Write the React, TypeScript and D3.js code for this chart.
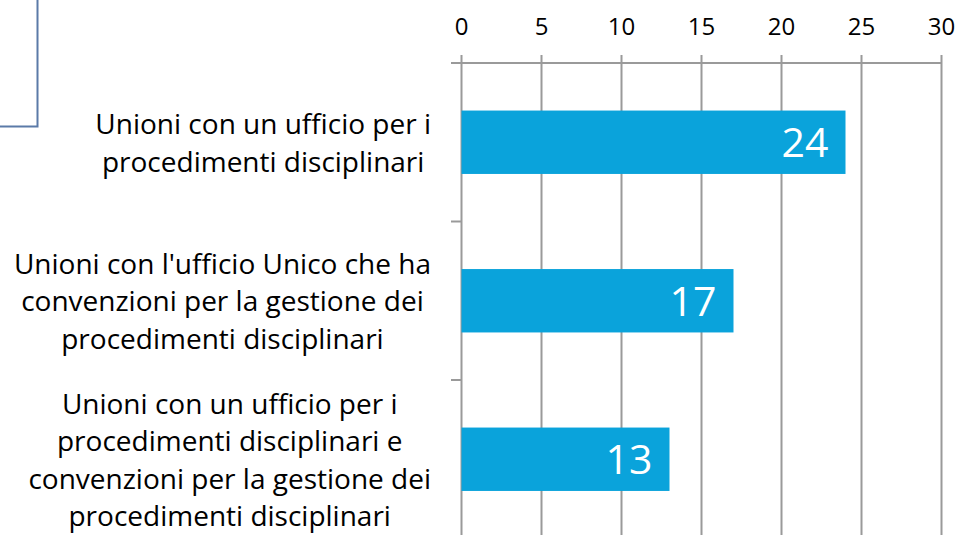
import React, { useEffect, useRef } from 'react';
import * as d3 from 'd3';

// Chart data
const categories = [
  ['Unioni con un ufficio per i', 'procedimenti disciplinari'],
  ["Unioni con l'ufficio Unico che ha", 'convenzioni per la gestione dei', 'procedimenti disciplinari'],
  ['Unioni con un ufficio per i', 'procedimenti disciplinari e', 'convenzioni per la gestione dei', 'procedimenti disciplinari'],
];
const values = [24, 17, 13];
const xTicks = [0, 5, 10, 15, 20, 25, 30];

const App = () => {
  const ref = useRef<SVGSVGElement>(null);
  const width = 959;
  const height = 535;

  useEffect(() => {
    document.body.style.margin = '0';
    const svg = d3.select(ref.current);
    svg.selectAll('*').remove();

    const x = d3.scaleLinear().domain([0, 30]).range([461.5, 941.5]);
    const y = d3.scaleBand<number>()
      .domain(d3.range(categories.length))
      .range([63, 538.5])
      .padding(0);

    const gridColor = '#9a9a9a';

    // Border remnant top-left
    svg.append('path')
      .attr('d', 'M37.5,0 V126.5 H0')
      .attr('fill', 'none')
      .attr('stroke', '#5b7aa8')
      .attr('stroke-width', 2);

    // Vertical gridlines + tick marks
    svg.append('g')
      .selectAll('line')
      .data(xTicks)
      .join('line')
      .attr('x1', d => x(d))
      .attr('x2', d => x(d))
      .attr('y1', 55)
      .attr('y2', height)
      .attr('stroke', gridColor)
      .attr('stroke-width', 2);

    // Top axis line
    svg.append('line')
      .attr('x1', 451).attr('x2', x(30))
      .attr('y1', 63).attr('y2', 63)
      .attr('stroke', gridColor)
      .attr('stroke-width', 2);

    // Category ticks
    svg.append('g')
      .selectAll('line')
      .data(d3.range(1, categories.length))
      .join('line')
      .attr('x1', 451)
      .attr('x2', x(0))
      .attr('y1', d => y(d)!)
      .attr('y2', d => y(d)!)
      .attr('stroke', gridColor)
      .attr('stroke-width', 2);

    // Tick labels
    svg.append('g')
      .selectAll('text')
      .data(xTicks)
      .join('text')
      .attr('x', d => x(d))
      .attr('y', 35)
      .attr('text-anchor', 'middle')
      .attr('font-family', 'Open Sans')
      .attr('font-size', 24)
      .attr('fill', '#000')
      .text(d => d);

    // Bars
    const barH = y.bandwidth() * 0.4;
    svg.append('g')
      .selectAll('rect')
      .data(values)
      .join('rect')
      .attr('x', x(0))
      .attr('y', (d, i) => y(i)! + (y.bandwidth() - barH) / 2)
      .attr('width', d => x(d) - x(0))
      .attr('height', barH)
      .attr('fill', '#0aa3db');

    // Value labels
    svg.append('g')
      .selectAll('text')
      .data(values)
      .join('text')
      .attr('x', d => x(d) - 17)
      .attr('y', (d, i) => y(i)! + y.bandwidth() / 2 + 15)
      .attr('text-anchor', 'end')
      .attr('font-family', 'Open Sans')
      .attr('font-size', 41)
      .attr('fill', '#fff')
      .text(d => d);

    // Category labels: lines centred, block right-aligned
    const lineH = 37.5;
    const labelRight = 431;
    categories.forEach((lines, i) => {
      const g = svg.append('g');
      const texts = g.selectAll('text')
        .data(lines)
        .join('text')
        .attr('font-family', 'Open Sans')
        .attr('font-size', 28)
        .attr('fill', '#000')
        .attr('text-anchor', 'middle')
        .text(d => d);
      let maxW = 0;
      texts.each(function () {
        maxW = Math.max(maxW, (this as SVGTextElement).getComputedTextLength());
      });
      const cx = labelRight - maxW / 2;
      const cy = y(i)! + y.bandwidth() / 2;
      texts
        .attr('x', cx)
        .attr('y', (d, j) => cy + (j - (lines.length - 1) / 2) * lineH + 10.5);
    });
  }, []);

  return <svg ref={ref} width={width} height={height} style={{ display: 'block' }} />;
};

export default App;
